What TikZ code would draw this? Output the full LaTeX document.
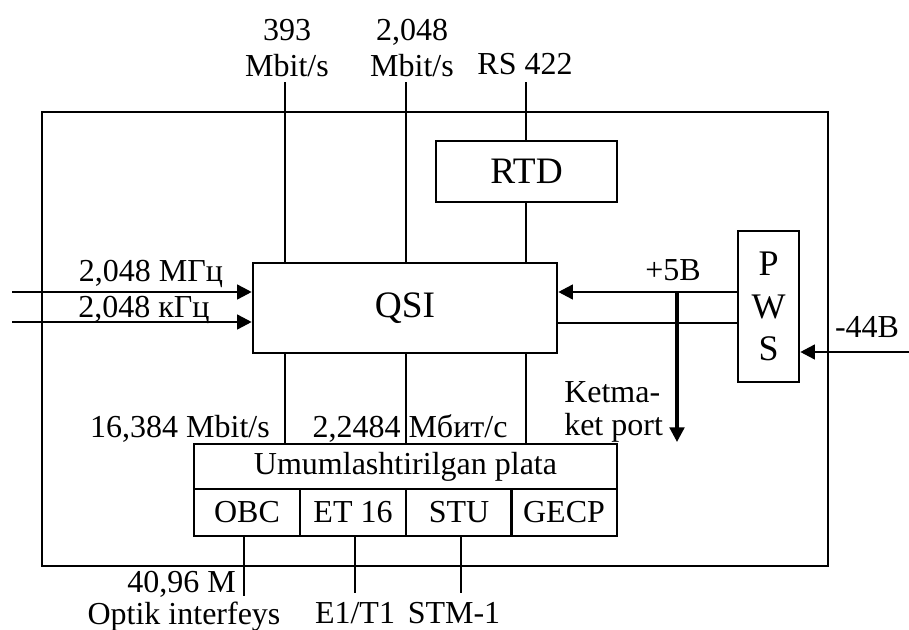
\documentclass[tikz,border=0pt]{standalone}
\usepackage{fontspec}
\setmainfont{Liberation Serif}
\usetikzlibrary{arrows.meta}

\begin{document}
\begin{tikzpicture}[x=0.75pt, y=-0.75pt, line width=1.9pt,
  >={Triangle[length=11pt,width=11pt]},
  font=\fontsize{24}{27}\selectfont,
  blok/.style={draw, inner sep=0pt, line width=1.9pt},
  lbl/.style={inner sep=0pt}]
\useasboundingbox (0,0) rectangle (909,630);
\draw (42,112) rectangle (828,566);
\node[blok, minimum width=228pt, minimum height=67.5pt, font=\fontsize{28}{32}\selectfont] (qsi) at (405,308) {QSI};
\node[blok, minimum width=135.75pt, minimum height=45.75pt, font=\fontsize{28}{32}\selectfont] (rtd) at (526.5,171.5) {RTD};
\node[blok, minimum width=45.75pt, minimum height=113.25pt, align=center, font=\fontsize{27}{32}\selectfont] (pws) at (768.5,306.5) {P\\W\\S};
\node[blok, minimum width=317.25pt, minimum height=33.75pt] (plata) at (405.5,466.5) {Umumlashtirilgan plata};
\foreach \x/\nm/\txt in {247/obc/OBC, 353/et/ET 16, 459/stu/STU, 564/gecp/GECP}
  \node[blok, minimum width=79.3pt, minimum height=35.25pt] (\nm) at (\x,512.5) {\txt};
\coordinate (t1) at (285,82);
\coordinate (t2) at (406,82);
\coordinate (t3) at (526,82);
\node[lbl, anchor=north, align=center] (l393) at (287,18) {393\\Mbit/s};
\node[lbl, anchor=north, align=center] (l2048) at (412,18) {2,048\\Mbit/s};
\node[lbl, anchor=base] (lrs) at (525,75) {RS 422};
\draw (qsi.north -| t1) -- (t1);
\draw (qsi.north -| t2) -- (t2);
\draw (rtd.north -| t3) -- (t3);
\draw (qsi.north -| t3) -- (rtd.south -| t3);
\foreach \c in {t1,t2,t3}
  \draw (qsi.south -| \c) -- (plata.north -| \c);
\node[lbl, anchor=base] (l16) at (180,437) {16,384 Mbit/s};
\node[lbl, anchor=base] (l22) at (410,437) {2,2484 Мбит/с};
\coordinate (inM) at (12,292);
\coordinate (ink) at (12,322);
\draw[->] (inM) -- (inM -| qsi.west);
\draw[->] (ink) -- (ink -| qsi.west);
\node[lbl, anchor=base] (lM) at (151,282) {2,048 МГц};
\node[lbl, anchor=base] (lk) at (144,318) {2,048 кГц};
\coordinate (p5) at (738,292);
\coordinate (p0) at (738,323);
\draw[->] (p5) -- (p5 -| qsi.east);
\draw (p0) -- (p0 -| qsi.east);
\node[lbl, anchor=base] (l5) at (673,281) {+5В};
\coordinate (port) at (677,292);
\coordinate (portEnd) at (677,442);
\draw[->, line width=2.4pt] (port) -- (portEnd);
\node[lbl, anchor=north west, align=left, font=\fontsize{24}{25}\selectfont] (lport) at (563,380) {Ketma-\\ket port};
\coordinate (in44) at (909,352);
\draw[->] (in44) -- (in44 -| pws.east);
\node[lbl, anchor=base] (l44) at (867,338) {-44В};
\coordinate (o1) at (244,596);
\coordinate (o2) at (355,593);
\coordinate (o3) at (461,593);
\draw (o1 |- obc.south) -- (o1);
\draw (o2 |- et.south) -- (o2);
\draw (o3 |- stu.south) -- (o3);
\node[lbl, anchor=base east] (l4096) at (237,592) {40,96 M};
\node[lbl, anchor=base] (lopt) at (184,624) {Optik interfeys};
\node[lbl, anchor=base] (le1) at (355,623) {E1/T1};
\node[lbl, anchor=base] (lstm) at (454,623) {STM-1};
\end{tikzpicture}
\end{document}
